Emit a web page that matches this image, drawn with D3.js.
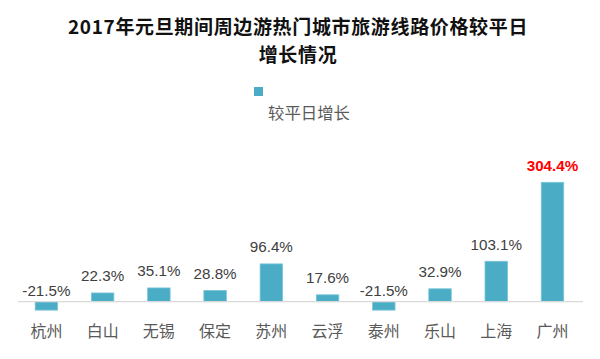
<!DOCTYPE html>
<html>
<head>
<meta charset="utf-8">
<script src="https://cdn.jsdelivr.net/npm/d3@7/dist/d3.min.js"></script>
<style>
  html, body { margin: 0; padding: 0; background: #fff; }
  svg { display: block; }
</style>
</head>
<body>
<svg id="chart" width="600" height="359"></svg>
<script>
const categories = ["杭州", "白山", "无锡", "保定", "苏州", "云浮", "泰州", "乐山", "上海", "广州"];
const values = [-21.5, 22.3, 35.1, 28.8, 96.4, 17.6, -21.5, 32.9, 103.1, 304.4];
const valueLabels = ["-21.5%", "22.3%", "35.1%", "28.8%", "96.4%", "17.6%", "-21.5%", "32.9%", "103.1%", "304.4%"];
const highlight = ["广州"];
const titleLines = ["2017年元旦期间周边游热门城市旅游线路价格较平日", "增长情况"];
const seriesName = "较平日增长";

const cjk = "'Noto Sans CJK SC', 'Noto Sans', sans-serif";
const num = "'Liberation Sans', Arial, sans-serif";
const barColor = "#4BACC6";

const svg = d3.select("#chart");

const x = d3.scaleBand()
  .domain(categories)
  .range([18.3, 580.6])
  .paddingInner(0.6)
  .paddingOuter(0.3);

const y = d3.scaleLinear()
  .domain([-30, 310])
  .range([301.7 + 30 * 0.3922, 301.7 - 310 * 0.3922]);

// Title
svg.selectAll("text.title")
  .data(titleLines)
  .join("text")
  .attr("class", "title")
  .attr("x", 298)
  .attr("y", (d, i) => i === 0 ? 25.5 : 53.5)
  .attr("text-anchor", "middle")
  .attr("dominant-baseline", "central")
  .style("font-family", cjk)
  .style("font-weight", "bold")
  .style("font-size", "19px")
  .style("letter-spacing", "0.65px")
  .style("fill", "#111")
  .text(d => d);

// Legend
svg.append("rect")
  .attr("x", 254).attr("y", 87)
  .attr("width", 9).attr("height", 9)
  .attr("fill", barColor);
svg.append("text")
  .attr("x", 268).attr("y", 112)
  .attr("dominant-baseline", "central")
  .style("font-family", cjk)
  .style("font-size", "16.4px")
  .style("fill", "#595959")
  .text(seriesName);

// Bars
svg.selectAll("rect.bar")
  .data(categories)
  .join("rect")
  .attr("class", "bar")
  .attr("x", d => x(d))
  .attr("width", x.bandwidth())
  .attr("y", (d, i) => Math.min(y(values[i]), y(0)))
  .attr("height", (d, i) => Math.abs(y(values[i]) - y(0)))
  .attr("fill", barColor)
  .attr("stroke", "#7cc6da")
  .attr("stroke-width", 0.8);

// Axis line
svg.append("line")
  .attr("x1", 18).attr("x2", 583)
  .attr("y1", y(0)).attr("y2", y(0))
  .attr("stroke", "#D9D9D9")
  .attr("stroke-width", 1.2);

// Value labels
svg.selectAll("text.val")
  .data(categories)
  .join("text")
  .attr("class", "val")
  .attr("x", d => x(d) + x.bandwidth() / 2)
  .attr("y", (d, i) => values[i] >= 0 ? y(values[i]) - 11.5 : y(0) - 6)
  .attr("text-anchor", "middle")
  .style("font-family", num)
  .style("font-size", "15.2px")
  .style("font-weight", d => highlight.includes(d) ? "bold" : "normal")
  .style("fill", d => highlight.includes(d) ? "#FF0000" : "#404040")
  .text((d, i) => valueLabels[i]);

// Category labels
svg.selectAll("text.cat")
  .data(categories)
  .join("text")
  .attr("class", "cat")
  .attr("x", d => x(d) + x.bandwidth() / 2)
  .attr("y", 330)
  .attr("text-anchor", "middle")
  .attr("dominant-baseline", "central")
  .style("font-family", cjk)
  .style("font-size", "16px")
  .style("fill", "#595959")
  .text(d => d);
</script>
</body>
</html>
